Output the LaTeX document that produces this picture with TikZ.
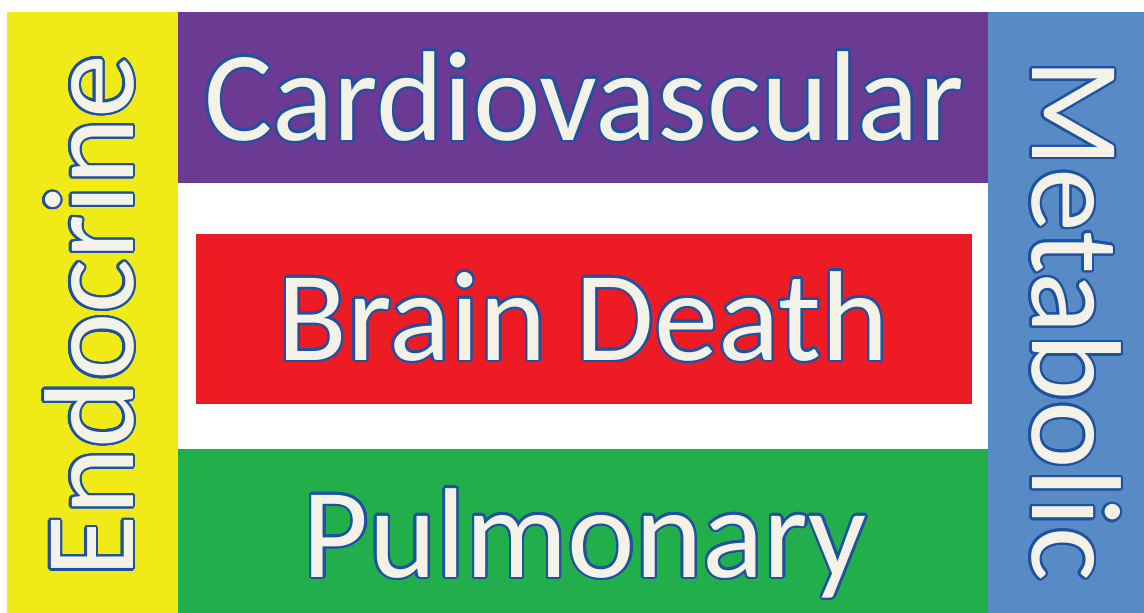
\documentclass[tikz,border=0pt]{standalone}
\usepackage{fontspec}
\usepackage{xcolor}
\usepackage{tikz}
\usepackage{contour}
\setmainfont{Carlito}
\newfontfamily\bandfont{Carlito}
\definecolor{endoyellow}{RGB}{240,234,22}
\definecolor{cardiopurple}{RGB}{107,58,147}
\definecolor{deathred}{RGB}{237,28,36}
\definecolor{pulmogreen}{RGB}{34,174,75}
\definecolor{metablue}{RGB}{88,138,198}
\definecolor{labelcream}{RGB}{244,241,231}
\definecolor{rimblue}{RGB}{30,82,160}
\contourlength{2.3pt}
\contournumber{24}

\begin{document}
\begin{tikzpicture}[
  x=1pt, y={(0pt,-1pt)},
  band/.style={draw=none, inner sep=0pt, outer sep=0pt},
  word/.style={anchor=base, inner sep=0pt, text=labelcream, font=\bandfont\fontsize{128}{132}\selectfont}
]
  \useasboundingbox[fill=white] (0,0) rectangle (1144,613);

  \node[band, fill=endoyellow, minimum width=171pt, minimum height=601pt] (endo) at (92.5,312.5) {};
  \node[band, fill=cardiopurple, minimum width=810pt, minimum height=171pt] (cardio) at (583,97.5) {};
  \node[band, fill=deathred, minimum width=776pt, minimum height=170pt] (death) at (584,319) {};
  \node[band, fill=pulmogreen, minimum width=810pt, minimum height=164pt] (pulmo) at (583,531) {};
  \node[band, fill=metablue, minimum width=156pt, minimum height=601pt] (meta) at (1066,312.5) {};

  \node[word, rotate=90] (endotxt) at (133,316) {\contour{rimblue}{Endocrine}};
  \node[word] (cardiotxt) at (584,140) {\contour{rimblue}{Cardiovascular}};
  \node[word] (deathtxt) at (583,360) {\contour{rimblue}{Brain Death}};
  \node[word] (pulmotxt) at (585,577) {\contour{rimblue}{Pulmonary}};
  \node[word, rotate=-90] (metatxt) at (1032,320) {\contour{rimblue}{Metabolic}};
\end{tikzpicture}
\end{document}
